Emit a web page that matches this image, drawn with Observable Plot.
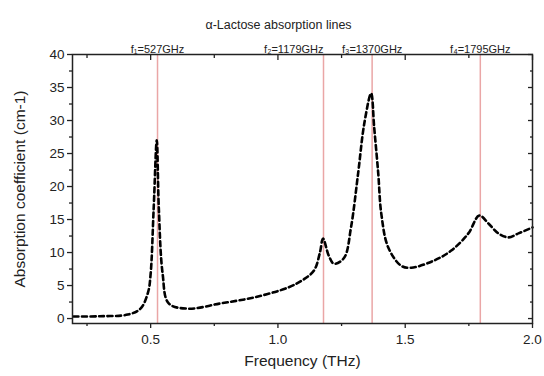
<!DOCTYPE html>
<html>
<head>
<meta charset="utf-8">
<script src="https://cdn.jsdelivr.net/npm/d3@7"></script>
<script src="https://cdn.jsdelivr.net/npm/@observablehq/plot@0.6"></script>
<style>
  body { margin: 0; background: #fff; }
  svg { font-family: "Liberation Sans", Arial, sans-serif; }
</style>
</head>
<body>
<div id="chart"></div>
<script>
// Absorption spectrum (frequency in THz, absorption in cm-1)
const freq = [0.197, 0.30, 0.41, 0.46, 0.49, 0.50, 0.512, 0.524, 0.532, 0.547, 0.571, 0.646, 0.776, 0.906, 1.04, 1.10, 1.142, 1.165, 1.177, 1.20, 1.22, 1.26, 1.287, 1.315, 1.339, 1.366, 1.378, 1.394, 1.406, 1.433, 1.484, 1.524, 1.614, 1.681, 1.748, 1.791, 1.827, 1.866, 1.906, 1.945, 1.988, 2.0];
const absorb = [0.3, 0.35, 0.6, 1.5, 4.0, 6.8, 16.8, 27.0, 16.8, 6.8, 2.3, 1.5, 2.3, 3.2, 4.7, 5.9, 7.3, 10.0, 12.1, 9.5, 8.3, 9.2, 13.8, 22.0, 29.5, 34.1, 29.0, 22.0, 15.9, 10.8, 8.0, 7.7, 8.8, 10.3, 12.9, 15.6, 14.4, 12.9, 12.3, 12.9, 13.6, 13.8];

// Absorption line positions (THz) and labels
const lineFreq = [0.527, 1.179, 1.370, 1.795];
const lineLabel = ["f\u2081=527GHz", "f\u2082=1179GHz", "f\u2083=1370GHz", "f\u2084=1795GHz"];
const lineAnchor = ["middle", "end", "middle", "middle"];

const xMajor = [0.5, 1.0, 1.5, 2.0];
const xMinor = [0.25, 0.75, 1.25, 1.75];
const yMajor = [0, 5, 10, 15, 20, 25, 30, 35, 40];
const yMinor = [2.5, 7.5, 12.5, 17.5, 22.5, 27.5, 32.5, 37.5];

const data = freq.map((f, i) => ({f, a: absorb[i]}));
const lines = lineFreq.map((f, i) => ({f, label: lineLabel[i], anchor: lineAnchor[i]}));

const txt = "#222";
const chart = Plot.plot({
  width: 544,
  height: 376,
  marginLeft: 72,
  marginRight: 12,
  marginTop: 54,
  marginBottom: 53,
  style: {fontFamily: "Liberation Sans, Arial, sans-serif", color: txt, background: "#fff"},
  x: {domain: [0.193, 2.0]},
  y: {domain: [-0.75, 40]},
  marks: [
    Plot.ruleX(lines, {x: "f", stroke: "#eaa6a6", strokeWidth: 1.5}),
    Plot.line(data, {x: "f", y: "a", curve: "catmull-rom", stroke: "#000", strokeWidth: 2.6, strokeDasharray: "5,3.5"}),
    Plot.frame({stroke: "#222", strokeWidth: 1.5}),
    // bottom axis
    Plot.axisX({anchor: "bottom", ticks: xMajor, tickSize: 5, tickPadding: 6, tickFormat: d3.format(".1f"), fontSize: 13.5, label: null, strokeWidth: 1.3}),
    Plot.axisX({anchor: "bottom", ticks: xMinor, tickSize: 3, tickFormat: () => "", label: null, strokeWidth: 1.3}),
    // top axis (inward)
    Plot.axisX({anchor: "top", ticks: xMajor, tickSize: -5, tickFormat: () => "", label: null, strokeWidth: 1.3}),
    Plot.axisX({anchor: "top", ticks: xMinor, tickSize: -3, tickFormat: () => "", label: null, strokeWidth: 1.3}),
    // left axis
    Plot.axisY({anchor: "left", ticks: yMajor, tickSize: 5, tickPadding: 3, fontSize: 13.5, label: null, strokeWidth: 1.3}),
    Plot.axisY({anchor: "left", ticks: yMinor, tickSize: 3, tickFormat: () => "", label: null, strokeWidth: 1.3}),
    // right axis (inward)
    Plot.axisY({anchor: "right", ticks: yMajor, tickSize: -5, tickFormat: () => "", label: null, strokeWidth: 1.3}),
    Plot.axisY({anchor: "right", ticks: yMinor, tickSize: -3, tickFormat: () => "", label: null, strokeWidth: 1.3}),
    // line labels
    Plot.text(lines.filter(d => d.anchor === "middle"), {x: "f", text: "label", textAnchor: "middle", frameAnchor: "top", dy: -9, fontSize: 11, fill: txt}),
    Plot.text(lines.filter(d => d.anchor === "end"), {x: "f", text: "label", textAnchor: "end", frameAnchor: "top", dy: -9, fontSize: 11, fill: txt}),
    // title
    Plot.text(["\u03b1-Lactose absorption lines"], {frameAnchor: "top", dx: -24, dy: -34, fontSize: 12.5, fill: txt}),
    // axis labels
    Plot.text(["Frequency (THz)"], {frameAnchor: "bottom", dy: 42, fontSize: 15.5, fill: txt}),
    Plot.text(["Absorption coefficient (cm-1)"], {frameAnchor: "left", textAnchor: "middle", dx: -52, rotate: -90, fontSize: 15.5, fill: txt})
  ]
});
document.getElementById("chart").appendChild(chart);
</script>
</body>
</html>
